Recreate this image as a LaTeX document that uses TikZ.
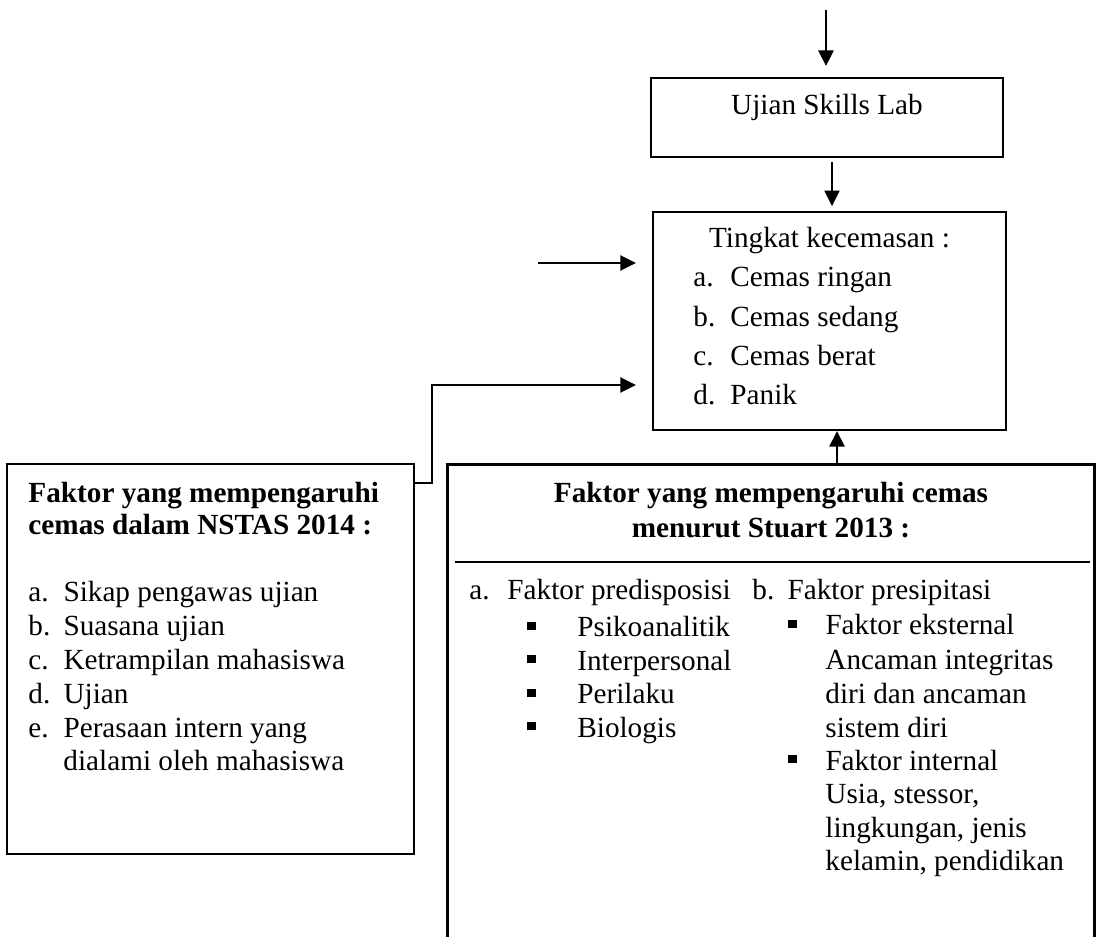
\documentclass[tikz,border=0pt]{standalone}
\usepackage{fontspec}
\setmainfont{Liberation Serif}
\usetikzlibrary{arrows.meta}
\newcommand\pxu[1]{#1*0.4107pt}
\newcommand\lbl[2]{\makebox[#1][l]{#2}}
\newcommand\sqb[1]{\makebox[#1][l]{\rule[2.9pt]{3.3pt}{3.3pt}}}
\begin{document}
\begin{tikzpicture}[x=0.4107pt,y=-0.4107pt,
  line/.style={line width=0.85pt},
  boxnode/.style={draw, line width=0.85pt, inner sep=0pt},
  arr/.style={line width=0.9pt, -{Triangle[length=6.4pt,width=6.2pt]}},
  txt/.style={inner sep=0pt, anchor=base west, font=\fontsize{12}{14}\selectfont},
  btxt/.style={txt, font=\fontsize{12}{14}\selectfont\bfseries}]
\useasboundingbox (0,0) rectangle (1099,937);

% boxes
\node[boxnode, minimum width=\pxu{352}, minimum height=\pxu{79}] (ujian) at (827,117.5) {};
\node[boxnode, minimum width=\pxu{353}, minimum height=\pxu{218}] (tingkat) at (829.5,321) {};
\node[boxnode, minimum width=\pxu{407}, minimum height=\pxu{390}] (nstas) at (210.5,659) {};
\node[inner sep=0pt, minimum width=\pxu{646}, minimum height=\pxu{472}] (stuart) at (771,701) {};
\draw[line] (stuart.south west) -- (stuart.north west) -- (stuart.north east) -- (stuart.south east);
\coordinate (sepL) at (455,562);
\coordinate (sepR) at (1090,562);
\draw[line] (sepL) -- (sepR);

% connectors
\coordinate (t0) at (826,10);
\draw[arr, shorten >=4.5pt] (t0) -- (t0 |- ujian.north);
\coordinate (m) at (832,0);
\draw[arr, shorten <=1.6pt, shorten >=2pt] (m |- ujian.south) -- (m |- tingkat.north);
\coordinate (a0) at (538,263);
\draw[arr, shorten >=6.6pt] (a0) -- (a0 -| tingkat.west);
\coordinate (k) at (432,483);
\coordinate (j) at (432,385);
\draw[arr, shorten >=6.6pt] (k -| nstas.east) -- (k) -- (j) -- (j -| tingkat.west);
\coordinate (u) at (837,0);
\draw[arr] (u |- stuart.north) -- (u |- tingkat.south);

% Ujian text
\node[txt, anchor=base] (ujianT) at (827,115) {Ujian Skills Lab};

% Tingkat text
\node[txt, anchor=base] (tkT) at (829.5,248) {Tingkat kecemasan :};
\node[txt] (tk1) at (693,287) {\lbl{15.2pt}{a.}Cemas ringan};
\node[txt] (tk2) at (693,326.3) {\lbl{15.2pt}{b.}Cemas sedang};
\node[txt] (tk3) at (693,365.6) {\lbl{15.2pt}{c.}Cemas berat};
\node[txt] (tk4) at (693,405) {\lbl{15.2pt}{d.}Panik};

% NSTAS text
\node[btxt] (nsT1) at (28,503) {Faktor yang mempengaruhi};
\node[btxt] (nsT2) at (28,535) {cemas dalam NSTAS 2014 :};
\node[txt] (ns1) at (28,602) {\lbl{14.4pt}{a.}Sikap pengawas ujian};
\node[txt] (ns2) at (28,636) {\lbl{14.4pt}{b.}Suasana ujian};
\node[txt] (ns3) at (28,670) {\lbl{14.4pt}{c.}Ketrampilan mahasiswa};
\node[txt] (ns4) at (28,703) {\lbl{14.4pt}{d.}Ujian};
\node[txt] (ns5) at (28,737) {\lbl{14.4pt}{e.}Perasaan intern yang};
\node[txt] (ns6) at (63,770) {dialami oleh mahasiswa};

% Stuart text
\node[btxt, anchor=base] (stT1) at (771,503) {Faktor yang mempengaruhi cemas};
\node[btxt, anchor=base] (stT2) at (771,537.5) {menurut Stuart 2013 :};
\node[txt] (stA) at (469,600) {\lbl{15.6pt}{a.}Faktor predisposisi};
\node[txt] (stA1) at (527,637) {\sqb{20.5pt}Psikoanalitik};
\node[txt] (stA2) at (527,670.5) {\sqb{20.5pt}Interpersonal};
\node[txt] (stA3) at (527,704) {\sqb{20.5pt}Perilaku};
\node[txt] (stA4) at (527,737.5) {\sqb{20.5pt}Biologis};
\node[txt] (stB) at (752,600) {\lbl{14.4pt}{b.}Faktor presipitasi};
\node[txt] (stB1) at (788,635) {\sqb{15.2pt}Faktor eksternal};
\node[txt] (stB2) at (825,670) {Ancaman integritas};
\node[txt] (stB3) at (825,703) {diri dan ancaman};
\node[txt] (stB4) at (825,737) {sistem diri};
\node[txt] (stB5) at (788,770) {\sqb{15.2pt}Faktor internal};
\node[txt] (stB6) at (825,803) {Usia, stessor,};
\node[txt] (stB7) at (825,837) {lingkungan, jenis};
\node[txt] (stB8) at (825,870) {kelamin, pendidikan};
\end{tikzpicture}
\end{document}
